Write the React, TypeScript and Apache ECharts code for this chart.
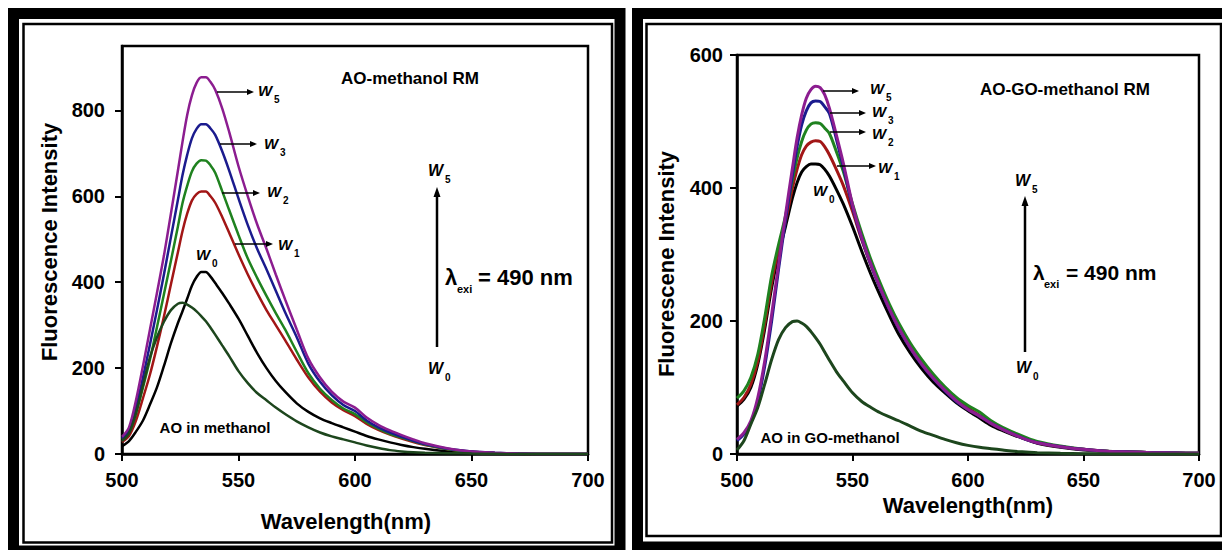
import React, { useEffect, useRef } from "react";
import * as echarts from "echarts";

// Emission wavelengths (nm) shared by every spectrum
const wavelength = [
  500, 503, 506, 509, 512, 515, 518, 521, 524,
  526, 528, 530, 532, 534, 536, 538, 540,
  543, 546, 550, 554, 558, 562, 566, 570,
  575, 580, 585, 590, 595, 600, 605, 610, 615, 620, 625, 630,
  640, 650, 660, 670, 680, 690, 700,
];

// AO-methanol reverse micelles
const mW5 = [
  40, 62, 125, 205, 290, 375, 462, 560, 660,
  728, 790, 835, 864, 877, 877, 866, 848,
  805, 750, 670, 600, 535, 478, 418, 360,
  290, 222, 178, 145, 122, 108, 85, 68, 55, 44, 34, 25,
  13, 6, 3, 1, 0, 0, 0,
];
const mW3 = [
  36, 55, 108, 178, 255, 335, 418, 505, 592,
  650, 697, 735, 757, 768, 768, 758, 743,
  705, 660, 595, 533, 478, 430, 380, 330,
  272, 210, 168, 137, 114, 100, 78, 62, 50, 40, 31, 23,
  12, 6, 3, 1, 0, 0, 0,
];
const mW2 = [
  33, 50, 95, 155, 220, 295, 372, 450, 530,
  585, 625, 658, 676, 684, 683, 672, 655,
  612, 568, 510, 455, 410, 368, 328, 290,
  238, 188, 152, 126, 106, 93, 74, 59, 47, 38, 30, 22,
  11, 5, 2.5, 1, 0, 0, 0,
];
const mW1 = [
  28, 42, 78, 130, 185, 250, 320, 395, 470,
  520, 560, 590, 605, 611, 611, 600, 585,
  552, 515, 465, 418, 375, 335, 300, 265,
  220, 178, 145, 120, 102, 88, 70, 56, 45, 36, 28, 21,
  11, 5, 2.5, 1, 0, 0, 0,
];
const mW0 = [
  18, 30, 52, 78, 115, 155, 205, 258, 305,
  333, 362, 392, 412, 424, 424, 413, 398,
  375, 350, 315, 275, 235, 200, 170, 145,
  118, 98, 83, 72, 62, 52, 42, 34, 27, 21, 16, 12,
  6, 3, 1.5, 0.5, 0, 0, 0,
];
const mAO = [
  30, 48, 95, 160, 225, 272, 308, 335, 350,
  352, 348, 341, 332, 321, 309, 294, 278,
  253, 228, 193, 165, 142, 125, 108, 93,
  76, 62, 50, 41, 34, 27, 20, 14, 9, 6, 4, 3,
  2, 1, 0.5, 0, 0, 0, 0,
];

// AO-GO-methanol reverse micelles
const gW5 = [
  22, 32, 50, 85, 140, 210, 285, 360, 430,
  475, 510, 535, 548, 553, 551, 540, 520,
  480, 438, 375, 325, 285, 250, 218, 190,
  160, 135, 114, 96, 80, 67, 57, 46, 37, 29, 22, 17,
  11, 7, 4, 3, 2, 1.5, 1,
];
const gW3 = [
  20, 30, 47, 80, 132, 200, 278, 352, 420,
  462, 495, 516, 528, 531, 530, 522, 512,
  474, 432, 372, 324, 284, 249, 217, 189,
  159, 134, 113, 95, 79, 67, 57, 46, 37, 29, 22, 17,
  11, 7, 4, 3, 2, 1.5, 1,
];
const gW2 = [
  84, 95, 115, 150, 205, 268, 315, 358, 412,
  445, 470, 487, 496, 498, 497, 490, 482,
  455, 425, 376, 332, 292, 257, 225, 197,
  167, 142, 120, 101, 85, 73, 63, 50, 40, 32, 25, 19,
  12, 7, 4, 3, 2, 1.5, 1,
];
const gW1 = [
  74, 85, 105, 140, 195, 258, 308, 350, 400,
  428, 450, 463, 469, 471, 470, 462, 450,
  428, 404, 365, 322, 284, 250, 218, 190,
  160, 136, 115, 97, 81, 69, 58, 46, 37, 29, 23, 17,
  11, 7, 4, 3, 2, 1.5, 1,
];
const gW0 = [
  72, 82, 100, 135, 188, 250, 300, 342, 385,
  408, 424, 432, 436, 436, 435, 428, 418,
  398, 376, 342, 305, 270, 238, 208, 180,
  152, 128, 108, 92, 77, 65, 54, 43, 35, 28, 22, 16,
  10, 6, 4, 3, 2, 1.5, 1,
];
const gAO = [
  6, 20, 45, 70, 105, 142, 172, 190, 199,
  200, 197, 192, 184, 175, 165, 153, 141,
  124, 110, 92, 79, 70, 62, 56, 50,
  42, 34, 28, 22, 17, 13, 10, 8, 6, 4, 3, 2,
  1, 0.5, 0, 0, 0, 0, 0,
];

const xTicks = [500, 550, 600, 650, 700];
const leftYTicks = [0, 200, 400, 600, 800];
const rightYTicks = [0, 200, 400, 600];

const colors = {
  w5: "#8c1d90",
  w3: "#1b1b8e",
  w2: "#1f821f",
  w1: "#a21616",
  w0: "#000000",
  ao: "#1d461d",
};

const FONT = '"Liberation Sans", Arial, sans-serif';

function lineSeries(values: number[], color: string, width: number, idx: number, z: number) {
  return {
    type: "line",
    xAxisIndex: idx,
    yAxisIndex: idx,
    data: wavelength.map((w, i) => [w, values[i]]),
    showSymbol: false,
    smooth: 0.3,
    silent: true,
    z,
    lineStyle: { color, width },
    itemStyle: { color },
  };
}

function axisBase() {
  return {
    type: "value",
    axisLine: { show: true, onZero: false, lineStyle: { color: "#000", width: 2.5 } },
    axisTick: { show: true, inside: false, length: 7, lineStyle: { color: "#000", width: 2 } },
    splitLine: { show: false },
  };
}

function labelStyle(margin: number, ticks: number[]) {
  return {
    color: "#000",
    fontSize: 20,
    fontWeight: "bold",
    fontFamily: FONT,
    margin,
    customValues: ticks,
    formatter: (v: number) => (ticks.indexOf(v) >= 0 ? String(v) : ""),
  };
}

function txt(x: number, y: number, text: string, font: string, align = "left", rotation = 0) {
  return {
    type: "text",
    x,
    y,
    rotation,
    silent: true,
    z: 20,
    style: { text, font, fill: "#000", align, verticalAlign: "middle" },
  };
}

// Italic W with a numeric subscript
function wLabel(x: number, y: number, sub: string, size = 15) {
  return [
    txt(x, y, "W", `italic bold ${size}px ${FONT}`),
    txt(x + size + 1, y + 9, sub, `bold 10px ${FONT}`),
  ];
}

// Thin horizontal pointer ending in a small arrowhead
function pointer(x1: number, x2: number, y: number) {
  return [
    { type: "line", silent: true, z: 20, shape: { x1, y1: y, x2: x2 - 5, y2: y }, style: { stroke: "#000", lineWidth: 1.5 } },
    { type: "polygon", silent: true, z: 20, shape: { points: [[x2, y], [x2 - 7, y - 3], [x2 - 7, y + 3]] }, style: { fill: "#000" } },
  ];
}

// Tall vertical arrow pointing upwards
function upArrow(x: number, yBottom: number, yTip: number) {
  return [
    { type: "line", silent: true, z: 20, shape: { x1: x, y1: yBottom, x2: x, y2: yTip + 8 }, style: { stroke: "#000", lineWidth: 2.5 } },
    { type: "polygon", silent: true, z: 20, shape: { points: [[x, yTip], [x - 3.5, yTip + 10], [x + 3.5, yTip + 10]] }, style: { fill: "#000" } },
  ];
}

function frame(x: number, y: number, w: number, h: number, lw: number) {
  return { type: "rect", silent: true, z: 1, shape: { x, y, width: w, height: h }, style: { fill: "none", stroke: "#000", lineWidth: lw } };
}

export default function App() {
  const ref = useRef<HTMLDivElement>(null);

  useEffect(() => {
    if (!ref.current) return;
    const chart = echarts.init(ref.current, undefined, { renderer: "svg" });

    const axisTitle = `bold 22px ${FONT}`;
    const wTitle = `bold 17px ${FONT}`;
    const inner = `bold 15px ${FONT}`;
    const lam = `bold 22px ${FONT}`;

    const graphic: any[] = [
      // panel frames
      frame(13.5, 13.5, 606.5, 537.5, 11),
      frame(23.5, 24, 588.5, 518.5, 2.5),
      frame(637.5, 13.5, 600, 533.5, 11),
      frame(646.5, 24, 574.5, 512, 2.5),

      // axis titles
      txt(49, 242, "Fluorescence Intensity", axisTitle, "center", Math.PI / 2),
      txt(346, 521, "Wavelength(nm)", axisTitle, "center"),
      txt(666, 264, "Fluorescene Intensity", axisTitle, "center", Math.PI / 2),
      txt(968, 505, "Wavelength(nm)", axisTitle, "center"),

      // left panel notes
      txt(410, 78, "AO-methanol RM", wTitle, "center"),
      txt(215, 427, "AO in methanol", inner, "center"),
      ...pointer(217, 254, 92), ...wLabel(258, 90, "5"),
      ...pointer(220, 257, 144), ...wLabel(264, 143, "3"),
      ...pointer(222, 260, 193), ...wLabel(267, 191, "2"),
      ...pointer(235, 273, 244), ...wLabel(278, 244, "1"),
      ...wLabel(196, 254, "0"),
      ...upArrow(437, 347, 187),
      ...wLabel(428, 170, "5", 16),
      ...wLabel(428, 368, "0", 16),
      txt(445, 277, "λ", lam),
      txt(457, 289, "exi", `bold 11px ${FONT}`),
      txt(478, 277, "= 490 nm", lam),

      // right panel notes
      txt(1065, 89, "AO-GO-methanol RM", wTitle, "center"),
      txt(830, 437, "AO in GO-methanol", inner, "center"),
      ...pointer(823, 859, 91), ...wLabel(870, 88, "5"),
      ...pointer(830, 866, 113), ...wLabel(872, 111, "3"),
      ...pointer(830, 866, 132), ...wLabel(872, 133, "2"),
      ...pointer(837, 876, 166), ...wLabel(878, 167, "1"),
      ...wLabel(813, 190, "0"),
      ...upArrow(1025, 352, 196),
      ...wLabel(1015, 180, "5", 16),
      ...wLabel(1016, 367, "0", 16),
      txt(1033, 272, "λ", `bold 21px ${FONT}`),
      txt(1044, 284, "exi", `bold 11px ${FONT}`),
      txt(1066, 272, "= 490 nm", `bold 21px ${FONT}`),
    ];

    chart.setOption({
      animation: false,
      backgroundColor: "#fff",
      grid: [
        { left: 122, top: 46, width: 466, height: 408, show: true, borderColor: "#000", borderWidth: 2.5, backgroundColor: "transparent" },
        { left: 737, top: 55, width: 462, height: 399, show: true, borderColor: "#000", borderWidth: 2.5, backgroundColor: "transparent" },
      ],
      xAxis: [
        { ...axisBase(), gridIndex: 0, min: 500, max: 700, interval: 50, axisLabel: labelStyle(16, xTicks) },
        { ...axisBase(), gridIndex: 1, min: 500, max: 700, interval: 50, axisLabel: labelStyle(16, xTicks) },
      ],
      yAxis: [
        {
          ...axisBase(), gridIndex: 0, min: 0, max: 950, interval: 200,
          axisTick: { show: true, inside: false, length: 7, customValues: leftYTicks, lineStyle: { color: "#000", width: 2 } },
          axisLabel: labelStyle(17, leftYTicks),
        },
        {
          ...axisBase(), gridIndex: 1, min: 0, max: 600, interval: 200,
          axisLabel: labelStyle(14, rightYTicks),
        },
      ],
      series: [
        lineSeries(mW0, colors.w0, 2.5, 0, 3),
        lineSeries(mW1, colors.w1, 2.5, 0, 4),
        lineSeries(mW2, colors.w2, 2.5, 0, 5),
        lineSeries(mW3, colors.w3, 2.5, 0, 6),
        lineSeries(mW5, colors.w5, 2.5, 0, 7),
        lineSeries(mAO, colors.ao, 2.5, 0, 8),
        lineSeries(gW0, colors.w0, 3, 1, 3),
        lineSeries(gW1, colors.w1, 3, 1, 4),
        lineSeries(gW2, colors.w2, 3, 1, 5),
        lineSeries(gW3, colors.w3, 3, 1, 6),
        lineSeries(gW5, colors.w5, 3, 1, 7),
        lineSeries(gAO, colors.ao, 3, 1, 8),
      ],
      graphic,
    });

    return () => chart.dispose();
  }, []);

  return (
    <div
      ref={ref}
      style={{ position: "absolute", left: 0, top: 0, width: 1222, height: 550, background: "#fff" }}
    />
  );
}
